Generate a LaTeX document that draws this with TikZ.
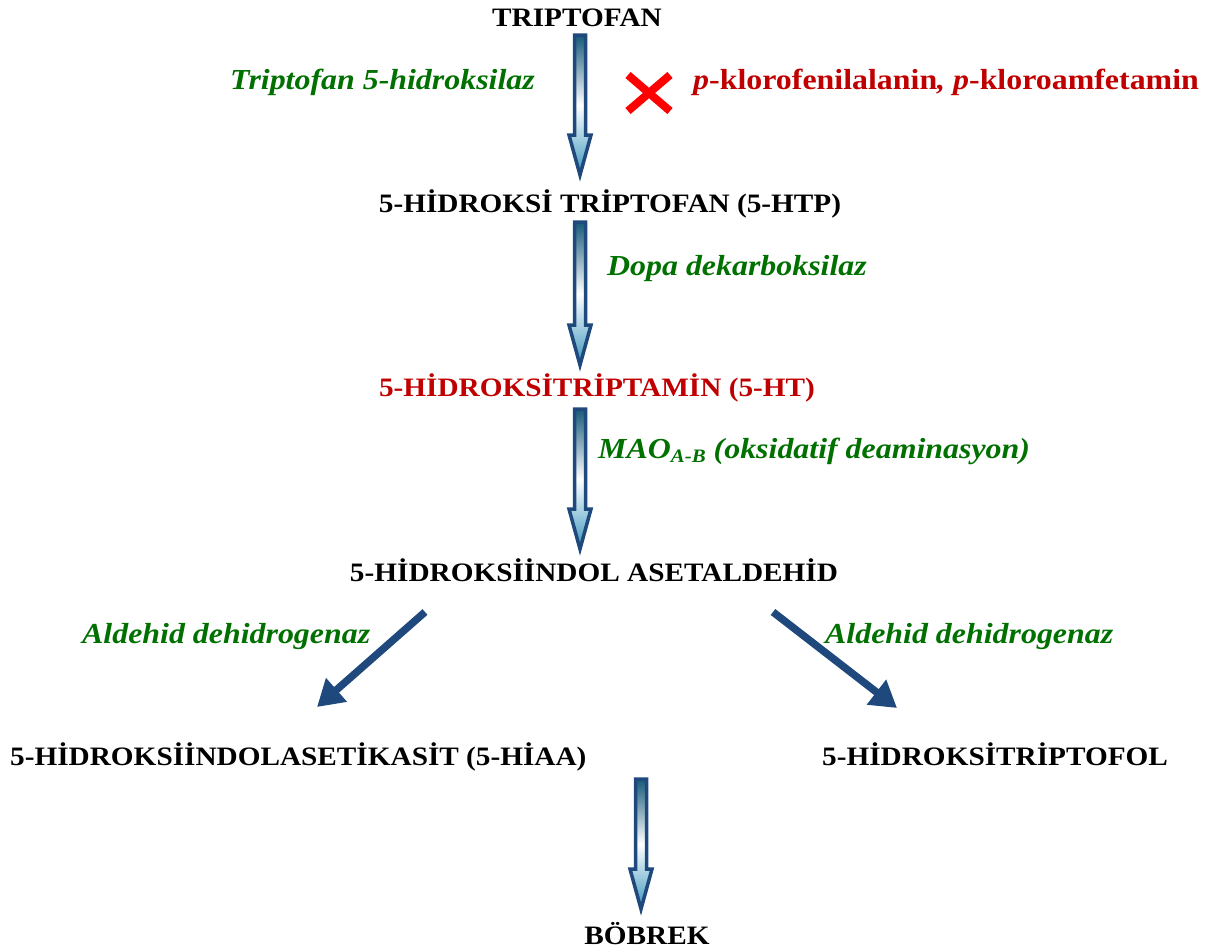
\documentclass[tikz,border=0pt]{standalone}
\usepackage{fontspec}
\setmainfont{Liberation Serif}[FakeStretch=1.1]
\usetikzlibrary{calc,arrows.meta}
\definecolor{dgreen}{RGB}{0,112,0}
\definecolor{dred}{RGB}{192,0,0}
\definecolor{xred}{RGB}{255,0,0}
\definecolor{ablue}{RGB}{31,73,125}
\definecolor{ateal}{RGB}{22,90,120}
\definecolor{alight}{RGB}{60,150,190}
\tikzset{
  lbl/.style={anchor=base, inner sep=0pt, font=\fontsize{26.6}{30}\selectfont\bfseries, text=black},
  enz/.style={anchor=base west, inner sep=0pt, font=\fontsize{29}{32}\selectfont\bfseries\itshape, text=dgreen},
  diag/.style={draw=ablue, line width=7.5pt, -{Triangle[length=26pt,width=30pt]}},
  blk/.style={draw=ablue, line width=3.5pt, line join=miter, top color=ateal, bottom color=alight, middle color=white}
}
\newcommand\blockarr[2]{%
  \path[blk] let \p1=(#1), \p2=(#2) in
    (\x1-5.5pt,\y1) -- (\x1+5.5pt,\y1) -- (\x1+5.5pt,\y2+43pt) -- (\x1+11pt,\y2+43pt)
    -- (\x1,\y2+3pt) -- (\x1-11pt,\y2+43pt) -- (\x1-5.5pt,\y2+43pt) -- cycle;}
\begin{document}
\begin{tikzpicture}[x=1pt,y=-1pt]
\useasboundingbox (0,0) rectangle (1217,951);
% labels
\node[lbl] (trp) at (577,26) {TRIPTOFAN};
\node[enz] (e1) at (230,89) {Triptofan 5-hidroksilaz};
\node[anchor=base west, inner sep=0pt, font=\fontsize{29}{32}\selectfont\bfseries, text=dred] (inh) at (693,89) {\textit{p}-klorofenilalanin\textit{,} \textit{p}-kloroamfetamin};
\node[lbl] (htp) at (610,212) {5-HİDROKSİ TRİPTOFAN (5-HTP)};
\node[enz] (e2) at (607,275) {Dopa dekarboksilaz};
\node[lbl, text=dred] (ht) at (597,396) {5-HİDROKSİTRİPTAMİN (5-HT)};
\node[enz] (e3) at (598,458) {MAO\raisebox{-0.35ex}{\fontsize{19}{19}\selectfont A-B} (oksidatif deaminasyon)};
\node[lbl] (ald) at (594,581) {5-HİDROKSİİNDOL ASETALDEHİD};
\node[enz] (e4) at (82,643) {Aldehid dehidrogenaz};
\node[enz] (e5) at (825,643) {Aldehid dehidrogenaz};
\node[lbl, anchor=base west] (hiaa) at (10,765) {5-HİDROKSİİNDOLASETİKASİT (5-HİAA)};
\node[lbl, anchor=base west] (tol) at (822,765) {5-HİDROKSİTRİPTOFOL};
\node[lbl] (bob) at (647,944) {BÖBREK};
% block arrows
\coordinate (a1t) at (580,35);  \coordinate (a1b) at (580,178);
\coordinate (a2t) at (580,222); \coordinate (a2b) at (580,368);
\coordinate (a3t) at (580,409); \coordinate (a3b) at (580,552);
\coordinate (a4t) at (641,779); \coordinate (a4b) at (641,912);
\blockarr{a1t}{a1b}
\blockarr{a2t}{a2b}
\blockarr{a3t}{a3b}
\blockarr{a4t}{a4b}
% diagonal arrows
\coordinate (d1s) at (425,612); \coordinate (d1e) at (317,707);
\coordinate (d2s) at (773,612); \coordinate (d2e) at (897,708);
\draw[diag] (d1s) -- (d1e);
\draw[diag] (d2s) -- (d2e);
% red cross
\coordinate (x1) at (628,75); \coordinate (x2) at (670,111);
\coordinate (x3) at (628,111); \coordinate (x4) at (670,75);
\draw[xred, line width=8pt] (x1) -- (x2) (x3) -- (x4);
\end{tikzpicture}
\end{document}
